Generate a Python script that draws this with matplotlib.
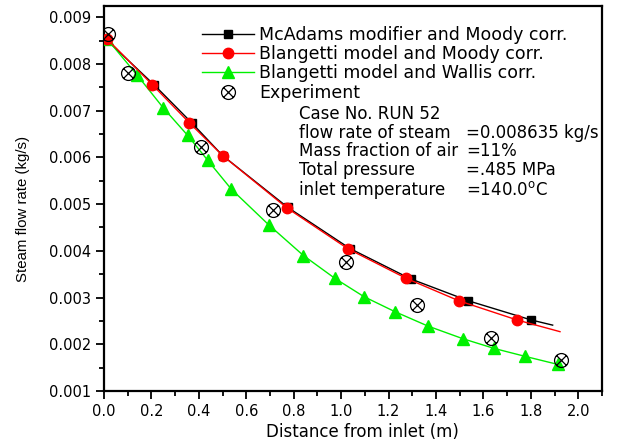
import numpy as np
import matplotlib
matplotlib.use("Agg")
import matplotlib.pyplot as plt
from matplotlib.path import Path
from matplotlib.ticker import MultipleLocator, FormatStrFormatter

plt.rcParams['font.family'] = ['DejaVu Sans']

# McAdams modifier + Moody correlation (last point is the curve end, no marker)
mcadams_x = [0.01, 0.21, 0.37, 0.50, 0.775, 1.037, 1.293, 1.537, 1.802, 1.892]
mcadams_y = [0.00852, 0.00756, 0.00674, 0.00604, 0.00493, 0.00405, 0.00340, 0.00293, 0.00252, 0.00241]

# Blangetti model + Moody correlation (last point is the curve end, no marker)
blm_x = [0.014, 0.203, 0.360, 0.500, 0.771, 1.030, 1.275, 1.497, 1.742, 1.923]
blm_y = [0.00853, 0.00756, 0.00674, 0.00604, 0.00492, 0.00404, 0.00341, 0.00293, 0.00252, 0.00227]

# Blangetti model + Wallis correlation
blw_x = [0.014, 0.140, 0.250, 0.353, 0.437, 0.537, 0.694, 0.841, 0.974, 1.096,
         1.226, 1.366, 1.513, 1.646, 1.777, 1.913]
blw_y = [0.00853, 0.00776, 0.00706, 0.00647, 0.00594, 0.00532, 0.00456, 0.00390,
         0.00341, 0.00302, 0.00270, 0.00239, 0.00212, 0.00191, 0.00174, 0.00157]

# Measured values
exp_x = [0.017, 0.101, 0.411, 0.712, 1.020, 1.320, 1.630, 1.929]
exp_y = [0.00865, 0.00781, 0.00622, 0.00488, 0.00377, 0.00285, 0.00214, 0.00166]

# circle with a cross inside
circ = Path.unit_circle()
k = 0.70
cross = Path([(-k, -k), (k, k), (-k, k), (k, -k)],
             [Path.MOVETO, Path.LINETO, Path.MOVETO, Path.LINETO])
otimes = Path.make_compound_path(circ, cross)

fig = plt.figure(figsize=(6.19, 4.46), dpi=100)
ax = fig.add_axes([0.168, 0.1233, 0.8045, 0.8632])

ax.plot(mcadams_x, mcadams_y, color='black', lw=1.0, marker='s', ms=6,
        markevery=list(range(len(mcadams_x) - 1)),
        label='McAdams modifier and Moody corr.', zorder=3)
ax.plot(blm_x, blm_y, color='#ff0000', lw=1.0, marker='o', ms=7.5,
        markevery=list(range(len(blm_x) - 1)),
        label='Blangetti model and Moody corr.', zorder=4)
ax.plot(blw_x, blw_y, color='#00f000', lw=1.0, marker='^', ms=8.5,
        label='Blangetti model and Wallis corr.', zorder=3)
ax.plot(exp_x, exp_y, ls='none', marker=otimes, ms=10, mfc='none',
        mec='black', mew=0.9, label='Experiment', zorder=5)

ax.set_xlim(0, 2.1)
ax.set_ylim(0.001, 0.00924)
ax.xaxis.set_major_locator(MultipleLocator(0.2))
ax.xaxis.set_minor_locator(MultipleLocator(0.1))
ax.yaxis.set_major_locator(MultipleLocator(0.001))
ax.yaxis.set_minor_locator(MultipleLocator(0.0005))
ax.xaxis.set_major_formatter(FormatStrFormatter('%.1f'))
ax.yaxis.set_major_formatter(FormatStrFormatter('%.3f'))
ax.tick_params(which='major', direction='out', length=6, width=1.3,
               labelsize=10.5, pad=3)
ax.tick_params(which='minor', direction='out', length=3.5, width=1.3)
for s in ax.spines.values():
    s.set_linewidth(1.6)

ax.set_xlabel('Distance from inlet (m)', fontsize=12)
ax.xaxis.set_label_coords(0.518, -0.084)
ax.set_ylabel('Steam flow rate (kg/s)', fontsize=10.8, family='Liberation Sans')
ax.yaxis.set_label_coords(-0.149, 0.473)

ax.legend(loc='upper left', bbox_to_anchor=(0.183, 0.966), frameon=False,
          fontsize=12.5, handlelength=3.0, handletextpad=0.3, labelspacing=0.07,
          borderaxespad=0)

tx = dict(fontsize=12, transform=ax.transAxes, va='center', ha='left')
x0 = (299 - 104) / 498
x1 = (466 - 104) / 498
def yrow(py):
    return (391 - py) / 385

ax.text(x0, yrow(114), 'Case No. RUN 52', **tx)
ax.text(x0, yrow(133), 'flow rate of steam', **tx)
ax.text(x1, yrow(133), '=0.008635 kg/s', **tx)
ax.text(x0, yrow(151), 'Mass fraction of air', **tx)
ax.text(x1, yrow(151), '=11%', **tx)
ax.text(x0, yrow(170), 'Total pressure', **tx)
ax.text(x1, yrow(170), '=.485 MPa', **tx)
ax.text(x0, yrow(190), 'inlet temperature', **tx)
ax.text(x1, yrow(190), r'=140.0$^\mathregular{o}$C', **tx)

fig.savefig('out.png', dpi=100)
